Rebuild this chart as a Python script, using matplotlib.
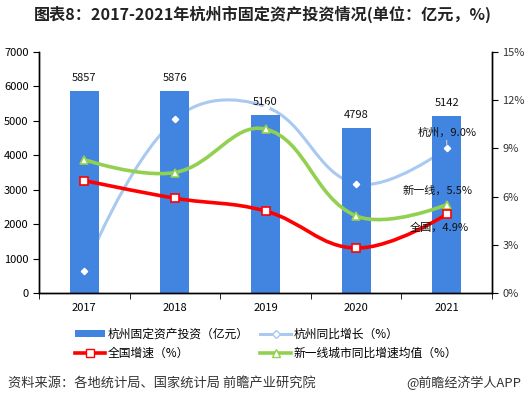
import numpy as np
import matplotlib
matplotlib.use('Agg')
import matplotlib.pyplot as plt
from matplotlib.path import Path
from matplotlib.patches import PathPatch, Patch
from matplotlib.lines import Line2D

plt.rcParams['font.family'] = ['Noto Sans CJK SC', 'DejaVu Sans']

# data
years = ['2017', '2018', '2019', '2020', '2021']
invest = [5857, 5876, 5160, 4798, 5142]          # 亿元
hz_growth = [1.4, 10.8, 11.6, 6.8, 9.0]          # %
cn_growth = [7.0, 5.9, 5.1, 2.8, 4.9]            # %
tier1_growth = [8.3, 7.5, 10.2, 4.8, 5.5]        # %

bar_color = '#4285e0'
hz_color = '#a9c9f1'
cn_color = '#ff0000'
t1_color = '#92d050'


def smooth_patch(ax_src, xs, ys, color, lw, s=0.4, zorder=3):
    # bezier curve through the points, control points like a cardinal spline
    pts = ax_src.transData.transform(np.column_stack([xs, ys]))
    n = len(pts)
    cin, cout = [], []
    for i in range(n):
        prev = pts[i - 1] if i > 0 else pts[i]
        nxt = pts[i + 1] if i < n - 1 else pts[i]
        if i == 0 or i == n - 1:
            cin.append(pts[i]); cout.append(pts[i])
            continue
        v = nxt - prev
        d0 = np.hypot(*(pts[i] - prev))
        d1 = np.hypot(*(nxt - pts[i]))
        r = d1 / (d0 + d1)
        cin.append(pts[i] - v * s * (1 - r))
        cout.append(pts[i] + v * s * r)
    verts = [pts[0]]
    codes = [Path.MOVETO]
    for i in range(n - 1):
        verts += [cout[i], cin[i + 1], pts[i + 1]]
        codes += [Path.CURVE4] * 3
    verts = ax_src.transData.inverted().transform(np.array(verts))
    return PathPatch(Path(verts, codes), facecolor='none', edgecolor=color,
                     lw=lw, transform=ax_src.transData, zorder=zorder,
                     capstyle='round', joinstyle='round')


fig = plt.figure(figsize=(5.26, 4.03), dpi=100)
rect = [39 / 526, 1 - 293 / 403, 453 / 526, 241 / 403]
ax = fig.add_axes(rect)
ax2 = ax.twinx()
ax.set_position(rect)
ax2.set_position(rect)

x = np.arange(len(years))
ax.set_xlim(-0.5, 4.5)
ax.set_ylim(0, 7000)
ax2.set_ylim(0, 15)

ax.bar(x, invest, width=0.32, color=bar_color, zorder=2)
for xi, v in zip(x, invest):
    ax.text(xi, v + 230, str(v), ha='center', va='bottom', fontsize=8, color='#111111')

# hangzhou line sits behind the bars
ax.add_patch(smooth_patch(ax2, x, hz_growth, hz_color, 2.2, zorder=1))
ax2.plot(x, hz_growth, ls='none', marker='D', ms=3.2, mfc='white', mec='white', zorder=5)

ax2.add_patch(smooth_patch(ax2, x, tier1_growth, t1_color, 2.6, zorder=3))
ax2.plot(x, tier1_growth, ls='none', marker='^', ms=6, mfc='white', mec=t1_color, mew=1.2, zorder=4)
ax2.add_patch(smooth_patch(ax2, x, cn_growth, cn_color, 2.6, zorder=3))
ax2.plot(x, cn_growth, ls='none', marker='s', ms=6, mfc='white', mec=cn_color, mew=1.2, zorder=4)

# end labels
ax2.annotate('杭州，9.0%', xy=(x[-1], hz_growth[-1] + 0.25), xytext=(x[-1], hz_growth[-1] + 1.0),
             fontsize=8, ha='center', va='center', color='#111111',
             arrowprops=dict(arrowstyle='-', color='#cccccc', lw=0.8, shrinkA=5, shrinkB=0))
ax2.text(x[-1] - 0.1, 6.4, '新一线，5.5%', fontsize=8, ha='center', va='center', color='#111111', zorder=6)
ax2.text(x[-1] - 0.08, 4.05, '全国，4.9%', fontsize=8, ha='center', va='center', color='#111111', zorder=6)

ax.set_xticks(x)
ax.set_xticklabels(years, fontsize=8)
ax.set_xticks(np.arange(-0.5, 5, 1), minor=True)
ax.tick_params(axis='x', which='major', length=0, pad=7)
ax.tick_params(axis='x', which='minor', length=4, direction='out')
ax.set_yticks(np.arange(0, 7001, 1000))
ax.tick_params(axis='y', labelsize=8, length=4, direction='out')
ax2.set_yticks(np.arange(0, 16, 3))
ax2.set_yticklabels([f'{v}%' for v in range(0, 16, 3)], fontsize=8, color='#333333')
ax2.tick_params(axis='y', length=4, direction='out')
for a in (ax, ax2):
    a.spines['top'].set_visible(False)
    for sp in ('left', 'right', 'bottom'):
        a.spines[sp].set_linewidth(1.0)
        a.spines[sp].set_color('black')

handles = [
    Patch(facecolor=bar_color, edgecolor='none'),
    Line2D([], [], color=cn_color, lw=2.6, marker='s', ms=6, mfc='white', mec=cn_color),
    Line2D([], [], color=hz_color, lw=2.2, marker='D', ms=4, mfc='white', mec=hz_color),
    Line2D([], [], color=t1_color, lw=2.6, marker='^', ms=6, mfc='white', mec=t1_color),
]
labels = ['杭州固定资产投资（亿元）', '全国增速（%）', '杭州同比增长（%）', '新一线城市同比增速均值（%）']
fig.legend(handles, labels, loc='upper left', bbox_to_anchor=(64 / 526, 1 - 317 / 403), ncol=2,
           frameon=False, fontsize=8.5, handlelength=2.6, handleheight=0.45, handletextpad=0.2,
           columnspacing=1.0, labelspacing=0.55)

fig.text(0.5, 1 - 14 / 403, '图表8：2017-2021年杭州市固定资产投资情况(单位：亿元，%)',
         ha='center', va='center', fontsize=11.6, fontweight='bold', color='#222222')
fig.text(8 / 526, 1 - 383 / 403, '资料来源：各地统计局、国家统计局 前瞻产业研究院',
         ha='left', va='center', fontsize=9.5, color='#333333')
fig.text(521 / 526, 1 - 383 / 403, '@前瞻经济学人APP',
         ha='right', va='center', fontsize=9.4, color='#333333')

fig.savefig('out.png', dpi=100)
